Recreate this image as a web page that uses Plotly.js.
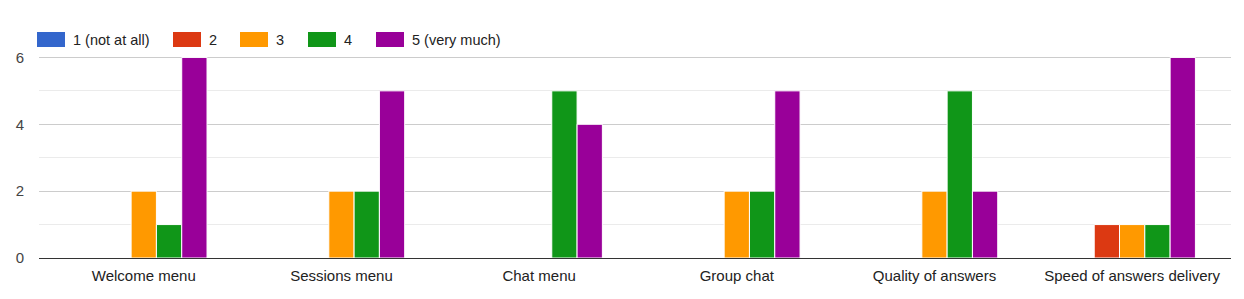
<!DOCTYPE html>
<html><head><meta charset="utf-8">
<script src="https://cdn.plot.ly/plotly-3.0.1.min.js"></script>
<style>html,body{margin:0;padding:0;background:#fff}#chart{width:1244px;height:299px}</style>
</head><body><div id="chart"></div>
<script>
const categories = ["Welcome menu","Sessions menu","Chat menu","Group chat","Quality of answers","Speed of answers delivery"];
const seriesNames = ["1 (not at all)","2","3","4","5 (very much)"];
const s1 = [0,0,0,0,0,0];
const s2 = [0,0,0,0,0,1];
const s3 = [2,2,0,2,2,1];
const s4 = [1,2,5,2,5,1];
const s5 = [6,5,4,5,2,6];
const yTicks = [0,2,4,6];
const colors = ["#3366cc","#dc3912","#ff9900","#109618","#990099"];
const allSeries = [s1,s2,s3,s4,s5];

const W = 1244, H = 299, ML = 39, MR = 13, MT = 24, MB = 41;
const plotW = W - ML - MR, plotH = H - MT - MB;
const px2x = p => (p - ML) / plotW;
const py2y = p => 1 - (p - MT) / plotH;

const traces = allSeries.map((vals,i)=>({
  type:'bar', name:seriesNames[i], x:categories, y:vals,
  marker:{color:colors[i], line:{color:'#ffffff', width:1}},
  hoverinfo:'y', showlegend:false
}));

// custom legend (wide swatches like the reference)
const legendBoxX = [37, 173, 240, 308, 376];
const shapes = [], annotations = [];
seriesNames.forEach((n,i)=>{
  shapes.push({type:'rect', xref:'paper', yref:'paper',
    x0:px2x(legendBoxX[i]), x1:px2x(legendBoxX[i]+28), y0:py2y(47), y1:py2y(32),
    fillcolor:colors[i], line:{width:0}});
  annotations.push({xref:'paper', yref:'paper', x:px2x(legendBoxX[i]+34), y:py2y(39.5),
    xanchor:'left', yanchor:'middle', text:n, showarrow:false,
    font:{size:14.5, color:'#222'}});
});

const layout = {
  width:W, height:H,
  margin:{l:ML, r:MR, t:MT, b:MB},
  barmode:'group', bargap:0.36, bargroupgap:0,
  font:{family:'Liberation Sans, Arial, sans-serif', size:13, color:'#222'},
  paper_bgcolor:'#fff', plot_bgcolor:'#fff',
  showlegend:false,
  shapes:shapes, annotations:annotations,
  xaxis:{type:'category', range:[-0.53,5.5], showgrid:false, showline:true, linecolor:'#333', linewidth:1,
    ticks:'', tickfont:{size:15, color:'#222'}, ticklabelstandoff:4, fixedrange:true},
  yaxis:{range:[0,7], tickvals:yTicks, ticktext:yTicks.map(String), showgrid:true, gridcolor:'#cccccc',
    zeroline:true, zerolinecolor:'#333', zerolinewidth:1,
    minor:{dtick:1, showgrid:true, gridcolor:'#ebebeb', gridwidth:1},
    tickfont:{size:15, color:'#444'}, ticks:'', ticklen:0, ticklabelstandoff:14, fixedrange:true}
};
Plotly.newPlot('chart', traces, layout, {displayModeBar:false, staticPlot:true});
</script></body></html>
